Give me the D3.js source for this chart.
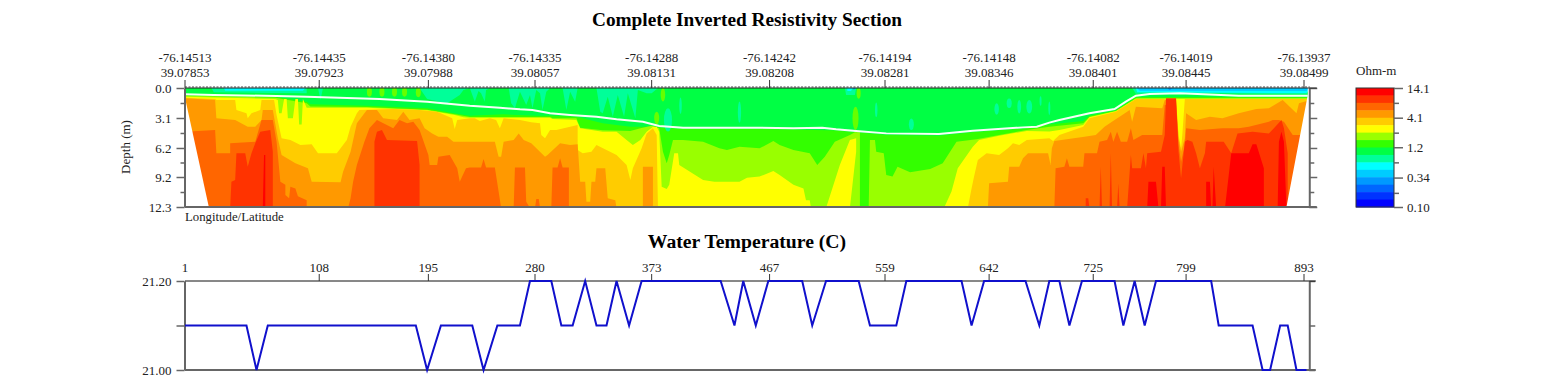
<!DOCTYPE html>
<html lang="en">
<head>
    <meta charset="UTF-8">
    <title>Complete Inverted Resistivity Section</title>
    <script src="https://cdn.jsdelivr.net/npm/d3@7"></script>
    <style>
        body { margin: 0; background: #fff; }
        text { font-family: "Liberation Serif", serif; fill: #222; }
        .title { font-weight: bold; font-size: 19.3px; fill: #000; text-anchor: middle; }
        .lbl { font-size: 13px; }
        .axis text { font-family: "Liberation Serif", serif; font-size: 13px; fill: #222; }
        .frame path, .frame line { stroke: #666; }
        .frame path { stroke-width: 2px; }
        .frame line { stroke-width: 1.5px; }
    </style>
</head>
<body>
<script type="text/javascript">
    // tick labels
    let traceTicks = [1, 108, 195, 280, 373, 467, 559, 642, 725, 799, 893];
    let lonLabels = ["-76.14513", "-76.14435", "-76.14380", "-76.14335", "-76.14288", "-76.14242", "-76.14194", "-76.14148", "-76.14082", "-76.14019", "-76.13937"];
    let latLabels = ["39.07853", "39.07923", "39.07988", "39.08057", "39.08131", "39.08208", "39.08281", "39.08346", "39.08401", "39.08445", "39.08499"];
    let depthTicks = [0, 1.55, 3.1, 4.65, 6.2, 7.7, 9.2, 10.75, 12.3];
    let depthLabels = ["0.0", "", "3.1", "", "6.2", "", "9.2", "", "12.3"];
    let tempTicks = [21.2, 21.1, 21.0];
    let tempLabels = ["21.20", "", "21.00"];
    let legendTicks = [14.1, 7.6, 4.1, 2.2, 1.2, 0.64, 0.34, 0.18, 0.1];
    let legendLabels = ["14.1", "", "4.1", "", "1.2", "", "0.34", "", "0.10"];
    let legendColors = ["#ff0000", "#ff3300", "#ff6600", "#ff9900", "#ffcc00", "#ffff00", "#99ff00", "#33ff00",
        "#00ff44", "#00ff99", "#00ffff", "#00ccff", "#0099ff", "#0066ff", "#0033ff", "#0000ff"];

    // water temperature, [trace, deg C]
    let temperature = [[1, 21.1], [50, 21.1], [58, 21.0], [67, 21.1], [185, 21.1], [194, 21.0], [205, 21.1], [230, 21.1], [239, 21.0], [250, 21.1],
        [268, 21.1], [276, 21.2], [293, 21.2], [301, 21.1], [310, 21.1], [320, 21.2], [329, 21.1], [337, 21.1], [345, 21.2], [355, 21.1], [365, 21.2],
        [428, 21.2], [439, 21.1], [446, 21.2], [456, 21.1], [466, 21.2], [493, 21.2], [501, 21.1], [512, 21.2], [538, 21.2], [547, 21.1], [568, 21.1],
        [576, 21.2], [620, 21.2], [628, 21.1], [638, 21.2], [671, 21.2], [682, 21.1], [690, 21.2], [698, 21.2], [706, 21.1], [716, 21.2], [742, 21.2],
        [749, 21.1], [758, 21.2], [766, 21.1], [775, 21.2], [819, 21.2], [825, 21.1], [852, 21.1], [860, 21.0], [866, 21.0], [874, 21.1], [880, 21.1],
        [887, 21.0], [895, 21.0]];

    // water bottom, [trace, depth m]
    let waterLine = [[1, .65], [24, .72], [74, .83], [98, .9], [156, 1.14], [194, 1.41], [228, 1.83], [252, 2.03], [268, 2.2], [278, 2.27], [292, 2.62],
        [308, 2.79], [329, 2.96], [345, 3.24], [366, 3.48], [379, 3.93], [398, 4.1], [459, 4.1], [486, 4.17], [509, 4.1], [520, 4.27], [536, 4.44],
        [560, 4.69], [602, 4.75], [629, 4.41], [669, 4.07], [680, 4.0], [690, 3.58], [698, 3.31], [722, 2.62], [742, 2.17], [751, 1.41], [759, .79],
        [770, .62], [794, .55], [841, .79], [896, .79]];

    // top of each resistivity band, [trace, depth m]; 12.4 means the band is absent there
    let band33 = [[1, .72], [73, .9], [98, 1.41], [101, 1.69], [146, 1.83], [194, 2.1], [215, 2.62], [228, 2.86], [255, 2.72], [281, 2.86], [292, 2.86],
        [313, 2.96], [334, 3.65], [356, 4.0], [377, 4.0], [381, 4.1], [398, 4.24], [459, 4.24], [486, 4.3], [520, 4.4], [536, 4.58], [560, 4.86],
        [602, 4.93], [629, 4.58], [669, 4.2], [690, 3.76], [717, 3.41], [722, 2.86], [743, 2.31], [759, .93], [898, .93]];
    let band99 = [[1, .79], [73, 1.0], [98, 1.58], [101, 1.9], [146, 1.96], [194, 2.24], [216, 2.72], [228, 3.0], [292, 3.0], [294, 3.13], [313, 3.13],
        [316, 4.1], [334, 4.37], [356, 4.44], [364, 4.17], [373, 3.89], [379, 4.17], [382, 6.58], [385, 7.79], [387, 6.92], [390, 5.37], [398, 5.37],
        [414, 5.55], [427, 6.24], [433, 6.41], [443, 6.06], [459, 6.24], [470, 5.48], [475, 5.89], [486, 6.41], [499, 6.75], [505, 7.96], [511, 7.1],
        [519, 5.55], [531, 4.86], [535, 4.58], [539, 4.58], [539, 12.4], [546, 12.4], [547, 5.37], [551, 5.37], [552, 6.58], [558, 6.75], [560, 8.99],
        [565, 9.16], [569, 8.13], [579, 8.72], [595, 8.37], [605, 7.79], [616, 5.55], [632, 5.3], [650, 4.86], [672, 4.34], [690, 4.0], [717, 3.65],
        [722, 2.96], [743, 2.38], [759, 1.07], [898, 1.07]];
    let bandYellow = [[1, .9], [73, 1.14], [75, 1.24], [76, 2.62], [78, 2.62], [80, 1.14], [82, 1.14], [83, 3.13], [87, 3.13], [89, 1.14], [91, 1.14],
        [92, 3.76], [94, 3.76], [95, 1.14], [98, 2.03], [146, 2.03], [194, 2.31], [216, 2.79], [223, 3.03], [228, 3.07], [292, 3.07], [294, 3.2],
        [313, 3.31], [316, 4.17], [334, 4.51], [345, 4.51], [353, 5.37], [358, 5.89], [364, 5.37], [369, 4.51], [374, 4.0], [377, 4.0], [379, 4.51],
        [381, 10.2], [385, 10.44], [387, 10.0], [391, 6.75], [394, 6.75], [395, 7.96], [414, 9.5], [423, 9.68], [443, 9.68], [449, 9.27], [459, 9.16],
        [470, 8.58], [475, 8.99], [486, 10.0], [494, 10.4], [496, 11.6], [499, 11.6], [500, 12.4], [512, 12.4], [523, 7.96], [531, 5.37], [536, 5.2],
        [536, 6.58], [531, 12.4], [606, 12.4], [612, 10.7], [617, 8.3], [629, 6.06], [634, 5.37], [650, 4.93], [672, 4.44], [690, 4.5], [698, 4.34],
        [717, 3.82], [722, 3.03], [743, 2.41], [759, 1.1], [898, 1.1]];
    let bandGold = [[1, 1.0], [25, 1.14], [26, 1.24], [41, 1.24], [42, 2.27], [50, 2.62], [51, 3.13], [54, 2.62], [61, 2.27], [62, 1.24], [72, 1.24],
        [74, 2.79], [78, 5.2], [85, 5.37], [93, 5.89], [102, 5.82], [107, 6.75], [122, 6.75], [130, 5.37], [133, 4.0], [138, 2.62], [140, 2.27],
        [167, 2.17], [188, 2.27], [202, 2.45], [214, 3.13], [216, 4.24], [218, 3.31], [228, 3.13], [232, 3.13], [236, 3.41], [244, 3.13], [249, 3.31],
        [252, 4.17], [255, 3.13], [268, 3.31], [277, 3.55], [284, 3.65], [285, 4.86], [288, 5.2], [292, 4.34], [297, 4.34], [308, 4.0], [314, 3.82],
        [314, 6.41], [318, 6.75], [325, 6.58], [329, 5.89], [345, 6.92], [353, 7.96], [356, 9.5], [358, 8.3], [365, 6.24], [369, 4.69], [374, 4.17],
        [377, 4.86], [378, 12.4], [625, 12.4], [628, 10.4], [630, 9.16], [633, 7.44], [640, 6.75], [650, 6.92], [657, 6.24], [661, 5.72], [666, 5.89],
        [672, 5.37], [690, 5.2], [693, 5.48], [698, 4.86], [717, 4.0], [722, 3.13], [743, 2.45], [759, 1.14], [791, 1.14], [793, 4.86], [795, 6.24],
        [796, 4.86], [798, 1.14], [898, 1.14]];
    let bandOrange = [[1, 1.07], [25, 1.24], [26, 3.13], [41, 3.31], [51, 4.0], [57, 4.0], [62, 3.31], [63, 2.27], [71, 2.27], [75, 5.2], [78, 6.92],
        [89, 7.79], [99, 8.3], [102, 9.68], [125, 9.75], [127, 8.65], [133, 6.58], [138, 3.65], [146, 2.27], [154, 2.27], [159, 3.13], [170, 3.31],
        [175, 2.45], [180, 3.31], [188, 3.13], [192, 4.17], [198, 4.69], [203, 5.03], [210, 5.03], [215, 5.55], [236, 5.55], [248, 5.55], [251, 7.1],
        [253, 7.1], [255, 5.55], [263, 5.37], [267, 4.69], [271, 5.37], [277, 5.72], [288, 7.1], [290, 6.92], [300, 5.72], [308, 5.89], [314, 5.82],
        [316, 9.68], [320, 9.68], [321, 11.75], [324, 11.75], [325, 9.68], [328, 9.68], [329, 8.3], [336, 8.3], [338, 11.4], [344, 11.6], [345, 12.4],
        [366, 12.4], [366, 8.13], [374, 8.13], [374, 12.4], [641, 12.4], [642, 9.85], [657, 9.68], [658, 8.13], [666, 8.13], [669, 7.27], [673, 6.75],
        [689, 6.75], [691, 7.96], [692, 6.24], [694, 5.48], [718, 5.03], [727, 4.86], [734, 4.0], [742, 3.31], [746, 2.96], [752, 2.45], [754, 2.27],
        [756, 3.48], [759, 1.93], [780, 2.1], [782, 1.24], [791, 1.24], [793, 5.2], [795, 6.58], [798, 5.2], [799, 2.62], [807, 3.31], [818, 2.96],
        [828, 3.13], [841, 2.62], [855, 2.17], [865, 2.1], [876, 1.24], [887, 2.62], [889, 1.58], [898, 1.24]];
    let bandDarkOrange = [[1, 4.51], [25, 4.34], [26, 6.75], [37, 6.75], [37, 5.72], [57, 5.55], [62, 3.31], [71, 3.31], [74, 5.55], [77, 9.68], [81, 10.0],
        [81, 11.06], [84, 11.4], [85, 10.2], [89, 10.4], [91, 11.2], [98, 11.6], [98, 12.4], [131, 12.4], [133, 11.4], [135, 9.68], [138, 7.96], [144, 5.55],
        [148, 4.17], [154, 3.31], [167, 4.17], [172, 3.31], [178, 3.65], [183, 3.48], [188, 4.34], [195, 6.92], [196, 7.96], [202, 7.96], [203, 7.1],
        [212, 6.92], [218, 8.3], [220, 9.68], [225, 8.3], [228, 8.23], [237, 8.23], [239, 7.34], [241, 8.23], [248, 8.23], [251, 10.7], [253, 12.4],
        [263, 12.4], [264, 8.23], [272, 8.23], [273, 11.75], [276, 12.4], [280, 12.4], [281, 11.47], [283, 11.47], [284, 12.4], [293, 12.4], [294, 8.23],
        [298, 8.23], [300, 7.27], [302, 8.23], [307, 8.23], [307, 12.4], [694, 12.4], [695, 8.3], [702, 8.13], [704, 7.27], [706, 8.13], [717, 8.13],
        [718, 6.75], [728, 6.75], [730, 5.55], [736, 5.37], [739, 4.51], [741, 5.55], [744, 4.51], [747, 5.55], [752, 5.55], [755, 4.17], [757, 5.37],
        [764, 4.86], [780, 4.86], [782, 1.76], [791, 1.76], [793, 5.89], [795, 7.62], [798, 5.89], [799, 4.17], [810, 4.34], [828, 4.17], [841, 4.17],
        [849, 4.0], [865, 3.48], [868, 3.31], [873, 3.31], [877, 3.48], [884, 4.86], [898, 4.86]];
    let bandRedOrange = [[1, 12.4], [37, 12.4], [38, 9.68], [41, 9.5], [42, 6.75], [49, 6.75], [51, 8.13], [54, 6.75], [57, 5.72], [61, 4.51], [69, 4.34],
        [71, 6.58], [71, 12.4], [152, 12.4], [152, 5.55], [154, 4.51], [158, 4.34], [162, 5.37], [186, 5.48], [188, 7.96], [188, 12.4], [719, 12.4],
        [719, 11.4], [721, 11.4], [722, 12.4], [730, 12.4], [731, 8.13], [732, 12.4], [738, 12.4], [739, 6.75], [740, 12.4], [744, 12.4], [745, 9.85],
        [746, 12.4], [752, 12.4], [755, 6.92], [756, 8.3], [763, 8.3], [765, 6.75], [767, 8.3], [768, 6.75], [779, 6.58], [782, 4.86], [783, 1.07],
        [791, 1.07], [793, 6.58], [795, 9.34], [798, 5.55], [800, 5.37], [804, 5.55], [807, 6.75], [810, 8.3], [814, 6.75], [815, 5.55], [829, 5.55],
        [835, 6.75], [840, 4.69], [852, 4.51], [865, 4.69], [869, 4.17], [875, 3.31], [877, 4.17], [880, 6.75], [880, 12.4], [898, 12.4]];
    let bandRed = [[1, 12.4], [63, 12.4], [64, 6.92], [65, 6.92], [65, 11.4], [65, 12.4], [768, 12.4], [769, 9.68], [775, 9.68], [777, 12.4], [779, 12.4],
        [780, 8.13], [782, 8.13], [783, 12.4], [815, 12.4], [815, 9.68], [818, 9.68], [819, 12.4], [820, 12.4], [821, 8.13], [823, 12.4], [830, 12.4],
        [835, 6.75], [849, 6.75], [852, 5.82], [855, 5.82], [861, 8.3], [861, 12.4], [872, 12.4], [873, 5.55], [875, 4.51], [877, 5.55], [879, 12.4], [898, 12.4]];

    // low resistivity bands hang down from the water surface
    let hangTeal = [[1, 0], [22, 0], [24, .45], [71, .52], [98, .55], [98, 0], [107, 0], [109, 1.24], [111, 0], [188, 0], [194, 1.14], [204, 1.41], [210, 1.58],
        [220, .72], [223, .2], [228, 0], [232, 1.41], [235, .31], [237, .55], [240, 1.41], [241, .2], [244, 0], [259, 0], [261, 1.58], [264, 2.1], [268, .38],
        [273, 1.76], [276, .72], [278, 2.1], [281, .2], [284, .55], [286, 2.27], [289, .38], [292, 0], [302, 0], [305, 2.27], [308, .38], [312, 1.41], [314, 0],
        [329, 0], [332, 2.45], [334, 2.62], [338, .9], [342, 2.96], [346, .72], [351, 2.96], [354, .55], [360, 3.13], [362, .2], [369, .55], [373, .55], [378, 0],
        [527, 0], [528, .72], [535, .72], [536, 0], [756, 0], [759, .59], [794, .52], [895, .65], [898, 0]];
    let hangCyan = [[1, 0], [32, 0], [33, .28], [95, .28], [97, 0], [529, 0], [529, .31], [532, .31], [533, 0], [759, 0], [760, .45], [895, .52], [898, 0]];
    let hangSky = [[1, 0], [760, 0], [762, .28], [895, .31], [898, 0]];
    let hangBlue = [[1, 0], [533, 0], [534, .17], [536, 0], [784, 0], [786, .24], [788, 0], [898, 0]];

    // isolated patches, [trace, depth, half width in traces, half height in m]
    let tealSpots = [[386, 3.3, 3.2, 1.2], [396, 1.83, 1, .85], [443, 2.5, 1.3, 1.1], [552, 2.27, 1, .76], [580, 3.75, 2, .6], [648, 2.17, 1.8, .6],
        [658, 1.58, 2, .5], [666, 1.93, 1.5, .7], [674, 1.93, 2.3, .7], [683, 1.34, .8, .5], [690, 2.1, .8, .7]];
    let limeSpots = [[535.5, 3.13, 2.4, 1.2], [538, .55, 1.6, .55], [382, .7, 1.8, .7], [377, 3.1, 2, .65], [148, .4, 2, .5], [158, .4, 2, .5], [168, .4, 2, .5],
        [176, .4, 2, .5], [187, .45, 2, .5]];

    // no data wedges either side of the inversion
    let wedgeLeft = [[1, 1.0], [20, 12.3], [1, 12.3]];
    let wedgeRight = [[896, 0], [896, .72], [879, 12.3], [898, 12.3], [898, 0]];

    let width = 1541,
        height = 380;

    let svg = d3.select("body").append("svg")
        .attr("width", width)
        .attr("height", height)
        .style("display", "block");

    let x = d3.scaleLinear().domain([1, 893]).range([185, 1304]);
    let y = d3.scaleLinear().domain([0, 12.3]).range([88, 207]);
    let yTemp = d3.scaleLinear().domain([21.0, 21.2]).range([370, 281]);
    let yLegend = d3.scaleLog().domain([0.1, 14.1]).range([207, 88]);
    let xEnd = x(897.6);

    svg.append("clipPath").attr("id", "plot")
        .append("rect")
        .attr("x", x(1)).attr("y", y(0))
        .attr("width", xEnd - x(1)).attr("height", y(12.3) - y(0));

    // slight blur, the reference is a soft jpeg
    let section = svg.append("g").attr("clip-path", "url(#plot)")
        .append("g").style("filter", "blur(0.6px)");

    // water colour first, everything else is painted over it
    section.append("rect")
        .attr("x", x(1) - 3).attr("y", y(0) - 3)
        .attr("width", xEnd - x(1) + 6).attr("height", y(12.3) - y(0) + 3)
        .attr("fill", "#00ff44");

    let below = d3.area().x(d => x(d[0])).y0(y(12.4)).y1(d => y(d[1]));
    let hanging = d3.area().x(d => x(d[0])).y0(y(0)).y1(d => y(d[1]));
    let line = d3.line().x(d => x(d[0])).y(d => y(d[1]));

    [[band33, "#33ff00"], [band99, "#99ff00"], [bandYellow, "#ffff00"], [bandGold, "#ffcc00"], [bandOrange, "#ff9900"],
        [bandDarkOrange, "#ff6600"], [bandRedOrange, "#ff3300"], [bandRed, "#ff0000"]].forEach(b => {
        section.append("path").attr("d", below(b[0])).attr("fill", b[1]);
    });

    [[hangTeal, "#00ff99"], [hangCyan, "#00ffff"], [hangSky, "#00ccff"], [hangBlue, "#0099ff"]].forEach(b => {
        section.append("path").attr("d", hanging(b[0])).attr("fill", b[1]);
    });

    [[limeSpots, "#66ff00"], [tealSpots, "#00ff99"]].forEach(s => {
        section.selectAll(null).data(s[0]).enter().append("ellipse")
            .attr("cx", d => x(d[0]))
            .attr("cy", d => y(d[1]))
            .attr("rx", d => x(d[2]) - x(0))
            .attr("ry", d => y(d[3]) - y(0))
            .attr("fill", s[1]);
    });

    section.append("path").attr("d", line(waterLine))
        .attr("fill", "none").attr("stroke", "#f8fff8").attr("stroke-width", 2);

    [wedgeLeft, wedgeRight].forEach(w => {
        section.append("path").attr("d", line(w) + "Z").attr("fill", "#fff");
    });

    // depth axes
    function frameAxis(g, axis, sign, major, minor) {
        g.attr("class", "axis frame").call(axis);
        g.selectAll(".tick line").attr("x2", (d, i) => sign * (i % 2 ? minor : major));
    }

    svg.append("g").attr("transform", "translate(" + (x(1) - 0.5) + ",0)")
        .call(g => frameAxis(g, d3.axisLeft(y).tickValues(depthTicks).tickSizeOuter(0)
            .tickPadding(7).tickFormat((d, i) => depthLabels[i]), -1, 8, 4));
    svg.append("g").attr("transform", "translate(" + (xEnd - 0.5) + ",0)")
        .call(g => frameAxis(g, d3.axisRight(y).tickValues(depthTicks).tickSizeOuter(0)
            .tickFormat(""), 1, 8, 5));

    // bottom edge grey, top edge black with the electrode marks
    svg.append("line").attr("x1", x(1)).attr("x2", xEnd + 7).attr("y1", y(12.3)).attr("y2", y(12.3))
        .attr("stroke", "#666").attr("stroke-width", 2);
    svg.append("line").attr("x1", x(1)).attr("x2", xEnd + 7).attr("y1", y(0)).attr("y2", y(0))
        .attr("stroke", "#222").attr("stroke-width", 1);
    svg.append("line").attr("x1", x(1)).attr("x2", xEnd).attr("y1", y(0) - 1).attr("y2", y(0) - 1)
        .attr("stroke", "#444").attr("stroke-width", 1).attr("stroke-dasharray", "2 1.5");

    let topAxis = svg.append("g").attr("class", "axis")
        .attr("transform", "translate(-0.5," + y(0) + ")")
        .call(d3.axisTop(x).tickValues(traceTicks).tickSize(8).tickSizeOuter(0).tickFormat(""));
    topAxis.select(".domain").remove();
    topAxis.selectAll(".tick line").attr("stroke", "#333");

    svg.selectAll(null).data(traceTicks).enter().append("text")
        .attr("class", "lbl").attr("x", d => x(d)).attr("y", 62)
        .attr("text-anchor", "middle").text((d, i) => lonLabels[i]);
    svg.selectAll(null).data(traceTicks).enter().append("text")
        .attr("class", "lbl").attr("x", d => x(d)).attr("y", 77)
        .attr("text-anchor", "middle").text((d, i) => latLabels[i]);

    svg.append("text").attr("class", "title").attr("x", 747).attr("y", 26).text("Complete Inverted Resistivity Section");
    svg.append("text").attr("class", "title").attr("x", 747).attr("y", 248).style("font-size", "19.7px").text("Water Temperature (C)");
    svg.append("text").attr("class", "lbl").attr("x", x(1)).attr("y", 221).style("font-size", "12.8px").text("Longitude/Latitude");
    svg.append("text").attr("class", "lbl").attr("text-anchor", "middle")
        .attr("transform", "translate(130,147) rotate(-90)").text("Depth (m)");
    svg.append("text").attr("class", "lbl").attr("x", 1356).attr("y", 75).text("Ohm-m");

    // legend
    let yBand = d3.scaleBand().domain(d3.range(legendColors.length)).range([88, 207]);
    svg.selectAll(null).data(legendColors).enter().append("rect")
        .attr("x", 1356).attr("width", 38)
        .attr("y", (d, i) => yBand(i))
        .attr("height", yBand.bandwidth() + 0.5)
        .attr("fill", d => d);
    svg.append("rect").attr("x", 1356).attr("y", 88).attr("width", 38).attr("height", 119)
        .attr("fill", "none").attr("stroke", "#333");
    svg.append("g").attr("transform", "translate(1394,0)")
        .call(g => frameAxis(g, d3.axisRight(yLegend).tickValues(legendTicks).tickSizeOuter(0)
            .tickPadding(7).tickFormat((d, i) => legendLabels[i]), 1, 9, 5))
        .call(g => g.select(".domain").remove());

    // water temperature panel
    svg.append("g").attr("transform", "translate(" + (x(1) - 0.5) + ",0)")
        .call(g => frameAxis(g, d3.axisLeft(yTemp).tickValues(tempTicks).tickSizeOuter(0)
            .tickPadding(7).tickFormat((d, i) => tempLabels[i]), -1, 8, 8));
    svg.append("g").attr("transform", "translate(" + (xEnd - 0.5) + ",0)")
        .call(g => frameAxis(g, d3.axisRight(yTemp).tickValues(tempTicks).tickSizeOuter(0)
            .tickFormat(""), 1, 6, 6));
    svg.append("line").attr("x1", x(1)).attr("x2", xEnd + 6).attr("y1", yTemp(21.0)).attr("y2", yTemp(21.0))
        .attr("stroke", "#666").attr("stroke-width", 2);
    svg.append("line").attr("x1", x(1)).attr("x2", xEnd + 6).attr("y1", yTemp(21.2)).attr("y2", yTemp(21.2))
        .attr("stroke", "#111").attr("stroke-width", 1);

    let traceAxis = svg.append("g").attr("class", "axis")
        .attr("transform", "translate(-0.5," + yTemp(21.2) + ")")
        .call(d3.axisTop(x).tickValues(traceTicks.slice(1)).tickSize(7).tickSizeOuter(0).tickPadding(2));
    traceAxis.select(".domain").remove();
    traceAxis.selectAll(".tick line").attr("stroke", "#333");
    svg.append("text").attr("class", "lbl").attr("x", x(1)).attr("y", 272)
        .attr("text-anchor", "middle").text(traceTicks[0]);

    svg.append("path")
        .attr("d", d3.line().x(d => x(d[0])).y(d => yTemp(d[1]))(temperature))
        .attr("fill", "none").attr("stroke", "#1010cc").attr("stroke-width", 2);
</script>
</body>
</html>
